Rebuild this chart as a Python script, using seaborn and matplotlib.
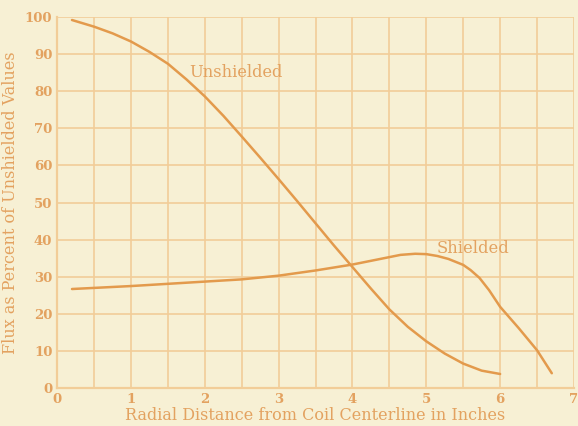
import numpy as np
import pandas as pd
import matplotlib
matplotlib.use('Agg')
import matplotlib.pyplot as plt
import seaborn as sns

# ── Data ──────────────────────────────────────────────────────
unshielded_x = [0.2, 0.5, 0.75, 1.0, 1.25, 1.5, 1.75, 2.0, 2.25, 2.5, 2.75, 3.0, 3.25, 3.5,
                3.75, 4.0, 4.25, 4.5, 4.75, 5.0, 5.25, 5.5, 5.75, 6.0]
unshielded_y = [99.2, 97.4, 95.6, 93.4, 90.6, 87.4, 83.2, 78.6, 73.4, 67.8, 62.1, 56.3, 50.4, 44.4,
                38.4, 32.6, 26.8, 21.2, 16.5, 12.6, 9.3, 6.6, 4.7, 3.8]
shielded_x = [0.2, 1.0, 2.0, 2.5, 3.0, 3.5, 4.0, 4.25, 4.5, 4.65, 4.85, 5.0, 5.15, 5.3, 5.5,
              5.6, 5.72, 5.85, 6.0, 6.25, 6.5, 6.7]
shielded_y = [26.7, 27.5, 28.7, 29.3, 30.3, 31.7, 33.3, 34.3, 35.3, 35.9, 36.2, 36.1, 35.6, 34.8, 33.2,
              31.8, 29.7, 26.4, 21.9, 16.2, 10.2, 4.0]

BG = '#F7F0D4'
LINE = '#E39A4C'
GRID = '#F2CD98'
TXT = '#E3A260'

sns.set_style('white')
plt.rcParams['font.family'] = ['DejaVu Serif']

df = pd.concat([
    pd.DataFrame({'x': unshielded_x, 'y': unshielded_y, 'curve': 'Unshielded'}),
    pd.DataFrame({'x': shielded_x, 'y': shielded_y, 'curve': 'Shielded'}),
])

fig = plt.figure(figsize=(5.78, 4.26), dpi=100, facecolor=BG)
ax = fig.add_axes([0.099, 0.089, 0.894, 0.871], facecolor=BG)

sns.lineplot(data=df, x='x', y='y', hue='curve', palette=[LINE, LINE],
             sort=False, estimator=None, linewidth=1.8, legend=False, ax=ax)

ax.set_xlim(0, 7)
ax.set_ylim(0, 100)
ax.set_xticks(range(0, 8))
ax.set_xticks(np.arange(0.5, 7, 1), minor=True)
ax.set_yticks(range(0, 101, 10))
ax.grid(True, which='both', color=GRID, linewidth=1.2)
ax.tick_params(which='both', length=0, colors=TXT, labelsize=9.5)
for lab in ax.get_xticklabels() + ax.get_yticklabels():
    lab.set_fontweight('bold')
for s in ['top', 'right']:
    ax.spines[s].set_visible(False)
for s in ['left', 'bottom']:
    ax.spines[s].set_color(GRID)
    ax.spines[s].set_linewidth(1.6)

ax.set_xlabel('Radial Distance from Coil Centerline in Inches', color=TXT, fontsize=11.5, labelpad=1)
ax.set_ylabel('Flux as Percent of Unshielded Values', color=TXT, fontsize=11.5, labelpad=4)

ax.text(2.42, 85, 'Unshielded', color=TXT, fontsize=11.7, ha='center', va='center')
ax.text(5.63, 37.7, 'Shielded', color=TXT, fontsize=11.8, ha='center', va='center')

plt.savefig('out.png', dpi=100, facecolor=BG)
